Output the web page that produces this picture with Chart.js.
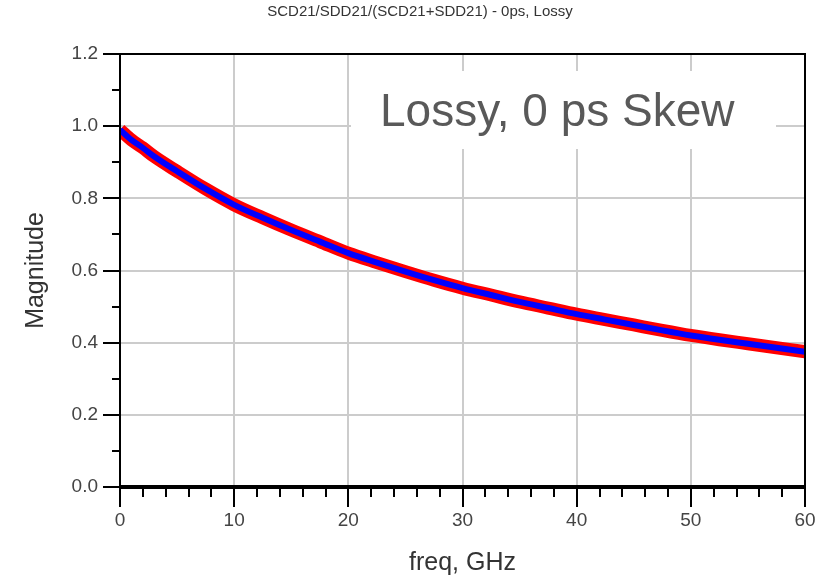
<!DOCTYPE html>
<html>
<head>
<meta charset="utf-8">
<title>SCD21/SDD21/(SCD21+SDD21) - 0ps, Lossy</title>
<script src="https://cdn.jsdelivr.net/npm/chart.js@4"></script>
<style>
  html, body { margin: 0; padding: 0; background: #fff; }
  #wrap { width: 817px; height: 584px; position: relative; }
</style>
</head>
<body>
<div id="wrap"><canvas id="myChart"></canvas></div>
<script>
// values
const freqGHz = [0, 1, 2, 3, 5, 7.5, 10, 12.5, 15, 17.5, 20, 22.5, 25, 27.5, 30,
  32.5, 35, 37.5, 40, 42.5, 45, 47.5, 50, 52.5, 55, 57.5, 60];
const magnitude = [0.99, 0.962, 0.94, 0.916, 0.875, 0.826, 0.782, 0.746, 0.712, 0.68, 0.648,
  0.622, 0.597, 0.573, 0.551, 0.532, 0.513, 0.496, 0.479, 0.464, 0.449, 0.434, 0.42,
  0.408, 0.397, 0.386, 0.375];
const xTicks = [0, 10, 20, 30, 40, 50, 60];
const yTicks = [0.0, 0.2, 0.4, 0.6, 0.8, 1.0, 1.2];

const chartTitle = "SCD21/SDD21/(SCD21+SDD21) - 0ps, Lossy";
const noteText = "Lossy, 0 ps Skew";
const xLabel = "freq, GHz";
const yLabel = "Magnitude";

const points = freqGHz.map((f, i) => ({ x: f, y: magnitude[i] }));

// title, white note box, axis frame and the small tick marks
const decorations = {
  id: "decorations",
  beforeDatasetsDraw(chart) {
    const { ctx } = chart;
    ctx.save();
    ctx.fillStyle = "#fff";
    ctx.fillRect(351, 71, 425, 78);
    ctx.fillStyle = "#595959";
    ctx.font = "46px 'Liberation Sans', Arial, sans-serif";
    ctx.textBaseline = "alphabetic";
    ctx.textAlign = "left";
    ctx.fillText(noteText, 380, 126);
    ctx.restore();
  },
  afterDraw(chart) {
    const { ctx, chartArea: a, scales: { x, y } } = chart;
    ctx.save();
    ctx.fillStyle = "#333";
    ctx.font = "15px 'Liberation Sans', Arial, sans-serif";
    ctx.textAlign = "center";
    ctx.textBaseline = "middle";
    ctx.fillText(chartTitle, 420, 12);

    ctx.strokeStyle = "#000";
    ctx.lineWidth = 2;
    ctx.beginPath();
    ctx.moveTo(a.left, a.bottom);
    ctx.lineTo(a.left, a.top);
    ctx.lineTo(a.right, a.top);
    ctx.lineTo(a.right, a.bottom);
    ctx.stroke();

    // y ticks, outward
    for (let i = 0; i <= 12; i++) {
      const py = Math.round(y.getPixelForValue(i / 10));
      const len = i % 2 === 0 ? 17 : 8;
      ctx.beginPath();
      ctx.moveTo(a.left, py);
      ctx.lineTo(a.left - len, py);
      ctx.stroke();
    }
    // x ticks, downward
    for (let v = 0; v <= 60; v += 2) {
      const px = Math.round(x.getPixelForValue(v));
      const len = v % 10 === 0 ? 20 : 10;
      ctx.beginPath();
      ctx.moveTo(px, a.bottom);
      ctx.lineTo(px, a.bottom + len);
      ctx.stroke();
    }
    ctx.lineWidth = 4;
    ctx.beginPath();
    ctx.moveTo(a.left - 1, a.bottom);
    ctx.lineTo(a.right + 1, a.bottom);
    ctx.stroke();
    ctx.restore();
  }
};

const ctx = document.getElementById("myChart").getContext("2d");
new Chart(ctx, {
  type: "line",
  data: {
    // first dataset is painted on top
    datasets: [
      {
        label: "SCD21+SDD21",
        data: points,
        borderColor: "#0000ff",
        borderWidth: 6,
        pointRadius: 0,
        cubicInterpolationMode: "monotone",
        clip: 0
      },
      {
        label: "SCD21/SDD21",
        data: points,
        borderColor: "#ff0000",
        borderWidth: 13,
        pointRadius: 0,
        cubicInterpolationMode: "monotone",
        clip: 0
      }
    ]
  },
  options: {
    responsive: true,
    maintainAspectRatio: false,
    animation: false,
    layout: { padding: { top: 54, right: 12, left: 0, bottom: 0 } },
    plugins: {
      legend: { display: false },
      title: { display: false },
      tooltip: { enabled: false }
    },
    scales: {
      x: {
        type: "linear",
        min: 0,
        max: 60,
        afterBuildTicks: (scale) => { scale.ticks = xTicks.map(v => ({ value: v })); },
        afterFit: (scale) => {
          scale.height = 97;
          scale.paddingLeft = 0;
          scale.paddingRight = 0;
        },
        border: { display: false },
        grid: { color: "#cccccc", lineWidth: 2, drawTicks: false },
        ticks: {
          padding: 22,
          color: "#444",
          font: { family: "'Liberation Sans', Arial, sans-serif", size: 19 },
          maxRotation: 0
        },
        title: {
          display: true,
          text: xLabel,
          color: "#333",
          font: { family: "'Liberation Sans', Arial, sans-serif", size: 25 },
          padding: { top: 0, bottom: 6 }
        }
      },
      y: {
        min: 0,
        max: 1.2,
        afterBuildTicks: (scale) => { scale.ticks = yTicks.map(v => ({ value: v })); },
        afterFit: (scale) => {
          scale.width = 120;
          scale.paddingTop = 0;
          scale.paddingBottom = 0;
        },
        border: { display: false },
        grid: { color: "#cccccc", lineWidth: 2, drawTicks: false },
        ticks: {
          padding: 22,
          color: "#444",
          font: { family: "'Liberation Sans', Arial, sans-serif", size: 19 },
          callback: (v) => Number(v).toFixed(1)
        },
        title: {
          display: true,
          text: yLabel,
          color: "#333",
          font: { family: "'Liberation Sans', Arial, sans-serif", size: 25 },
          padding: { top: 21, bottom: 0 }
        }
      }
    }
  },
  plugins: [decorations]
});
</script>
</body>
</html>
